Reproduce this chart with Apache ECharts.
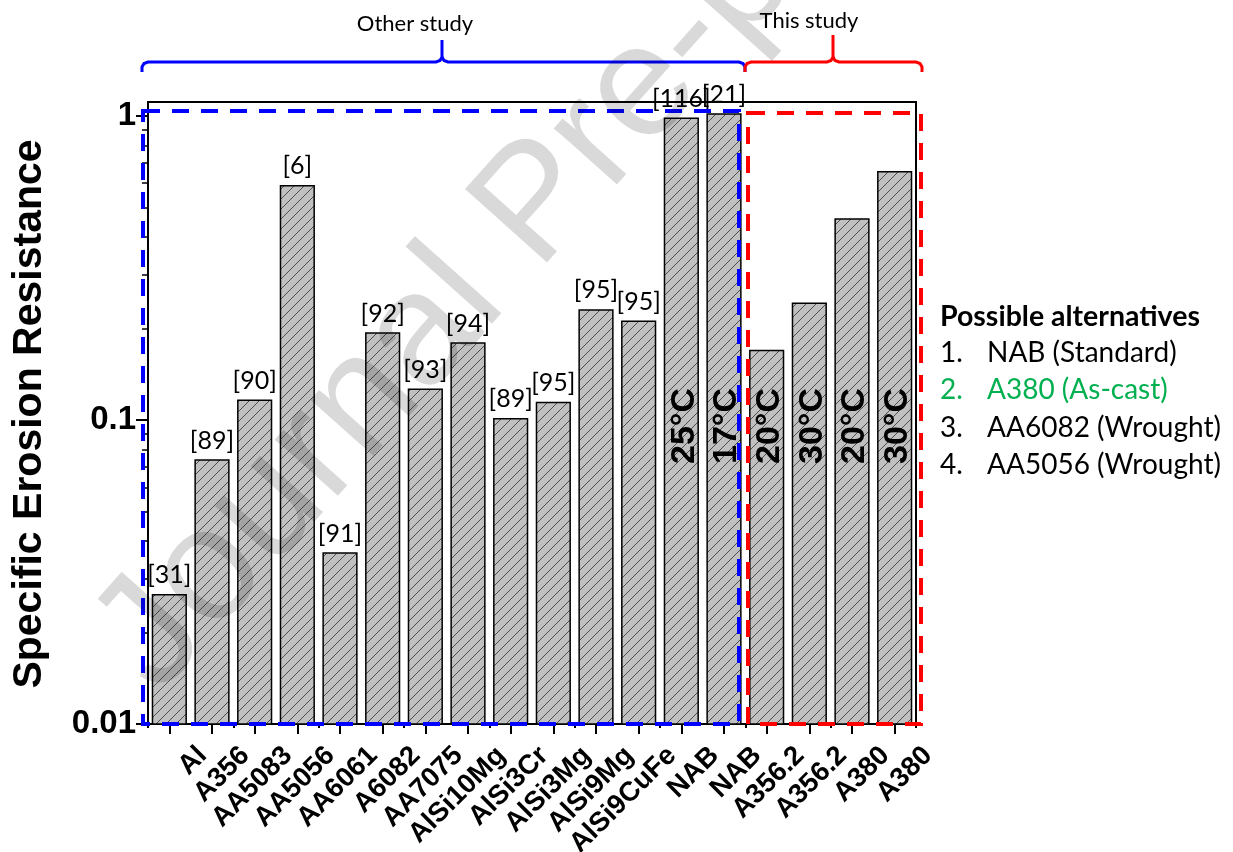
<!DOCTYPE html>
<html><head><meta charset="utf-8">
<script src="https://cdn.jsdelivr.net/npm/echarts@6/dist/echarts.min.js"></script>
<style>html,body{margin:0;padding:0;background:#fff}#c{width:1233px;height:852px}</style>
</head><body><div id="c"></div>
<script>
const categories = ['Al','A356','AA5083','AA5056','AA6061','A6082','AA7075','AlSi10Mg','AlSi3Cr','AlSi3Mg','AlSi9Mg','AlSi9CuFe','NAB','NAB','A356.2','A356.2','A380','A380'];
const resistance = [0.0266,0.0738,0.116,0.589,0.0365,0.193,0.126,0.179,0.1008,0.114,0.230,0.211,0.982,1.013,0.169,0.242,0.458,0.654];
const refLabels = ['[31]','[89]','[90]','[6]','[91]','[92]','[93]','[94]','[89]','[95]','[95]','[95]','[116]','[21]','','','',''];
const tempLabels = ['','','','','','','','','','','','','25°C','17°C','20°C','30°C','20°C','30°C'];
const tempLabelLevel = 0.0955;
const yMin = 0.01, yMax = 1.11;
const majorTicks = [0.01, 0.1, 1];
const minorTicks = [0.02,0.03,0.04,0.05,0.06,0.07,0.08,0.09,0.2,0.3,0.4,0.5,0.6,0.7,0.8,0.9];
const yTitle = 'Specific Erosion Resistance';
const groupTitles = ['Other study', 'This study'];
const legendTitle = 'Possible alternatives';
const legendNums = ['1.','2.','3.','4.'];
const legendItems = ['NAB (Standard)','A380 (As-cast)','AA6082 (Wrought)','AA5056 (Wrought)'];
const legendColors = ['#000','#00B050','#000','#000'];
const watermark = 'Journal Pre-proof';

function hatch(){
  const c=document.createElement('canvas');c.width=10;c.height=10;
  const g=c.getContext('2d');g.fillStyle='#c0c0c0';g.fillRect(0,0,10,10);
  g.strokeStyle='rgba(0,0,0,0.6)';g.lineWidth=1;g.beginPath();
  g.moveTo(0,10);g.lineTo(10,0);g.moveTo(-5,5);g.lineTo(5,-5);g.moveTo(5,15);g.lineTo(15,5);g.stroke();
  return c;
}
const pattern = {image: hatch(), repeat:'repeat'};
const chart = echarts.init(document.getElementById('c'));
const CAL = 'Lato, "Open Sans", sans-serif';
const ARB = '"Liberation Sans", Arial, sans-serif';

function bracket(x0, xm, x1, yLine, yEnd, yTop){
  return [
    [[x0,yEnd],[x0,yLine+5],[x0+2,yLine+1.5],[x0+6,yLine],[xm-6,yLine],[xm-2,yLine-1.5],[xm,yLine-5],[xm,yTop]],
    [[xm,yLine-5],[xm+2,yLine-1.5],[xm+6,yLine],[x1-6,yLine],[x1-2,yLine+1.5],[x1,yLine+5],[x1,yEnd]]
  ];
}
const graphics = [];
graphics.push({type:'text', x:30, y:414, rotation:Math.PI/2, style:{text:yTitle, font:'bold 41px '+ARB, fill:'#000', align:'center', verticalAlign:'middle'}});
bracket(142,442,745,62,72,40).forEach(p=>graphics.push({type:'polyline', shape:{points:p}, style:{stroke:'#0000ff', lineWidth:3, fill:null}}));
bracket(745,833,922,62,72,35).forEach(p=>graphics.push({type:'polyline', shape:{points:p}, style:{stroke:'#ff0000', lineWidth:3, fill:null}}));
graphics.push({type:'text', x:415, y:24, style:{text:groupTitles[0], font:'22px '+CAL, fill:'#000', align:'center', verticalAlign:'middle'}});
graphics.push({type:'text', x:809, y:21, style:{text:groupTitles[1], font:'22px '+CAL, fill:'#000', align:'center', verticalAlign:'middle'}});
graphics.push({type:'rect', z:100, shape:{x:143,y:111,width:596,height:613}, style:{stroke:'#0000ff', lineWidth:4, lineDash:[17,12], fill:null}});
graphics.push({type:'rect', z:100, shape:{x:748,y:113,width:173,height:611}, style:{stroke:'#ff0000', lineWidth:4, lineDash:[17,12], fill:null}});
graphics.push({type:'text', x:940, y:317, style:{text:legendTitle, font:'bold 28.5px '+CAL, fill:'#000', align:'left', verticalAlign:'middle'}});
legendItems.forEach((t,i)=>{
  graphics.push({type:'text', x:940, y:353+37.3*i, style:{text:legendNums[i], font:'28px '+CAL, fill:legendColors[i], align:'left', verticalAlign:'middle'}});
  graphics.push({type:'text', x:987, y:353+37.3*i, style:{text:t, font:'28px '+CAL, fill:legendColors[i], align:'left', verticalAlign:'middle'}});
});
graphics.push({type:'text', z:200, x:185, y:720, rotation:0.84, style:{text:watermark, font:'160px '+ARB, fill:'rgba(0,0,0,0.15)', align:'left', verticalAlign:'bottom'}});

const option = {
  backgroundColor:'#fff',
  animation:false,
  grid:{left:148, right:317, top:102, bottom:128, outerBoundsMode:'none', containLabel:false, show:true, borderColor:'#000', borderWidth:2, backgroundColor:'transparent'},
  xAxis:[{
    type:'category', data:categories, position:'bottom', boundaryGap:true,
    axisLine:{show:true, lineStyle:{color:'#000', width:2}},
    axisTick:{show:true, alignWithLabel:true, length:10, lineStyle:{color:'#000', width:2}},
    axisLabel:{interval:0, rotate:45, align:'right', verticalAlign:'top', padding:[33,0,0,0], margin:-6, fontFamily:ARB, fontWeight:'bold', fontSize:27.5, color:'#000', hideOverlap:false},
    splitLine:{show:false}
  },{
    type:'category', data:categories, position:'bottom', boundaryGap:true,
    axisLine:{show:false}, axisTick:{show:true, length:4, lineStyle:{color:'#000', width:2}}, axisLabel:{show:false}, splitLine:{show:false}
  }],
  yAxis:[{
    type:'log', logBase:10, min:yMin, max:yMax, position:'left',
    axisLine:{show:true, lineStyle:{color:'#000', width:2}},
    axisTick:{show:true, length:12, customValues:majorTicks, lineStyle:{color:'#000', width:2}},
    axisLabel:{customValues:majorTicks, fontFamily:ARB, fontWeight:'bold', fontSize:33, color:'#000', margin:12},
    splitLine:{show:false}, minorTick:{show:false}
  },{
    type:'log', logBase:10, min:yMin, max:yMax, position:'left',
    axisLine:{show:false}, axisTick:{show:true, length:6, customValues:minorTicks, lineStyle:{color:'#000', width:1.5}},
    axisLabel:{show:false}, splitLine:{show:false}
  }],
  series:[{
    type:'custom', xAxisIndex:0, yAxisIndex:0,
    data: resistance.map((v,i)=>[i,v]),
    encode:{x:0, y:1},
    renderItem:(params, api)=>{
      const i = api.value(0), v = api.value(1);
      const top = api.coord([i, v]);
      const base = api.coord([i, yMin]);
      const w = params.coordSys.width / categories.length * 0.79;
      const tp = api.coord([i, tempLabelLevel]);
      const ch = [
        {type:'rect', shape:{x:top[0]-w/2, y:top[1], width:w, height:base[1]-top[1]}, style:{fill:pattern, stroke:'#000', lineWidth:1.5}},
      ];
      if (refLabels[i]) ch.push({type:'text', x:top[0], y:top[1]-7, style:{text:refLabels[i], font:'25px '+CAL, fill:'#000', align:'center', verticalAlign:'bottom'}});
      if (tempLabels[i]) ch.push({type:'text', x:tp[0]+3, y:tp[1], rotation:Math.PI/2, style:{text:tempLabels[i], font:'bold 34px '+ARB, fill:'#000', align:'center', verticalAlign:'middle'}});
      return {type:'group', children:ch};
    },
    clip:false
  }],
  graphic: graphics
};
chart.setOption(option);
</script></body></html>
